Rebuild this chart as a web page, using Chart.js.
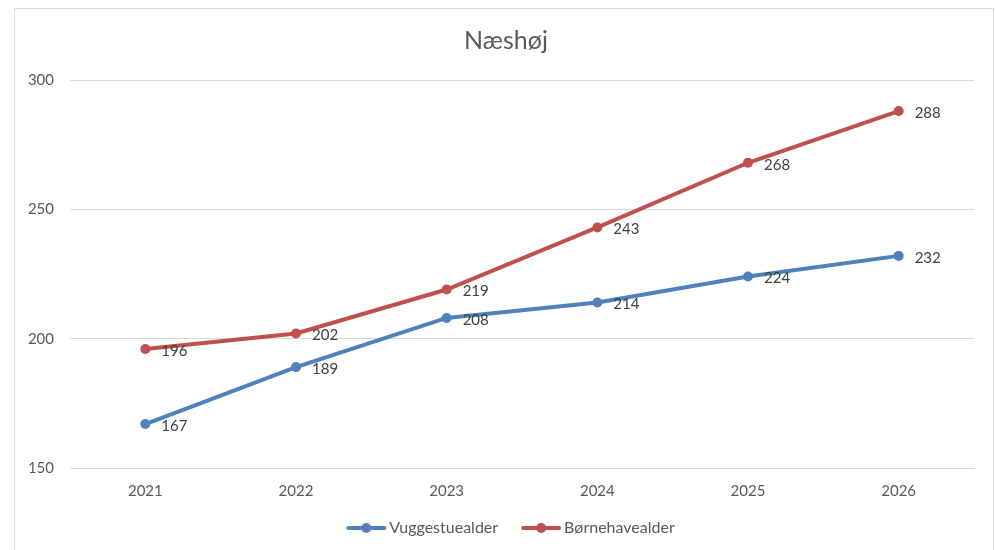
<!DOCTYPE html>
<html lang="da">
<head>
<meta charset="UTF-8">
<title>Næshøj</title>
<script src="https://cdn.jsdelivr.net/npm/chart.js"></script>
<style>
  html, body { margin: 0; padding: 0; background: #fff; overflow: hidden; }
  #frame { position: absolute; left: 14px; top: 8px; width: 980px; height: 560px; border: 1px solid #d9d9d9; box-sizing: border-box; }
  #frame canvas { position: absolute; left: 0; top: 0; }
</style>
</head>
<body>
<div id="frame"><canvas id="chart" width="982" height="558"></canvas></div>
<script>
// data
const years = ['2021', '2022', '2023', '2024', '2025', '2026'];
const vuggestue = [167, 189, 208, 214, 224, 232];
const boernehave = [196, 202, 219, 243, 268, 288];
const yTicks = [150, 200, 250, 300];

const blue = '#4f81bd';
const red = '#c0504d';
const textGrey = '#595959';
const fontFamily = 'Lato, "Open Sans", sans-serif';

// legend marker: line with a dot in the middle (left part left blank for item spacing)
function legendMarker(color) {
    const c = document.createElement('canvas');
    c.width = 56; c.height = 12;
    const g = c.getContext('2d');
    g.strokeStyle = color;
    g.lineWidth = 4;
    g.lineCap = 'round';
    g.beginPath(); g.moveTo(17, 6); g.lineTo(53, 6); g.stroke();
    g.fillStyle = color;
    g.beginPath(); g.arc(35, 6, 5, 0, Math.PI * 2); g.fill();
    return c;
}

// simple data labels right of each point
const valueLabels = {
    id: 'valueLabels',
    afterDatasetsDraw(chart) {
        const ctx = chart.ctx;
        ctx.save();
        ctx.font = '15px ' + fontFamily;
        ctx.fillStyle = '#404040';
        ctx.textAlign = 'left';
        ctx.textBaseline = 'middle';
        chart.data.datasets.forEach((ds, i) => {
            chart.getDatasetMeta(i).data.forEach((pt, j) => {
                ctx.fillText(ds.data[j], pt.x + 16, pt.y + 2);
            });
        });
        ctx.restore();
    }
};

new Chart(document.getElementById('chart'), {
    type: 'line',
    data: {
        labels: years,
        datasets: [
            {
                label: 'Vuggestuealder',
                data: vuggestue,
                borderColor: blue,
                backgroundColor: blue,
                borderWidth: 4,
                pointRadius: 5,
                pointHoverRadius: 5,
                pointBorderWidth: 0,
                tension: 0
            },
            {
                label: 'Børnehavealder',
                data: boernehave,
                borderColor: red,
                backgroundColor: red,
                borderWidth: 4,
                pointRadius: 5,
                pointHoverRadius: 5,
                pointBorderWidth: 0,
                tension: 0
            }
        ]
    },
    options: {
        responsive: false,
        animation: false,
        layout: { padding: { left: 0, right: 0, top: 0, bottom: 21 } },
        scales: {
            x: {
                offset: true,
                grid: { display: false },
                border: { display: true, color: '#d9d9d9', width: 1 },
                ticks: { color: textGrey, font: { family: fontFamily, size: 15 }, padding: 6 }
            },
            y: {
                min: 150,
                max: 300,
                afterBuildTicks(scale) { scale.ticks = yTicks.map(v => ({ value: v })); },
                afterFit(scale) { scale.width = 55; },
                grid: { color: '#d9d9d9', drawTicks: false },
                border: { display: false },
                ticks: { color: textGrey, font: { family: fontFamily, size: 15 }, padding: 16 }
            },
            // empty right margin so title and legend stay centred like the original
            yRight: {
                position: 'right',
                min: 150,
                max: 300,
                afterFit(scale) { scale.width = 23; },
                grid: { display: false },
                border: { display: false },
                ticks: { display: false }
            }
        },
        plugins: {
            title: {
                display: true,
                text: 'Næshøj',
                color: textGrey,
                font: { family: fontFamily, size: 25, weight: 'normal' },
                padding: { top: 17, bottom: 24 }
            },
            legend: {
                position: 'bottom',
                labels: {
                    color: textGrey,
                    font: { family: fontFamily, size: 16 },
                    usePointStyle: true,
                    pointStyleWidth: 44,
                    padding: 14,
                    generateLabels(chart) {
                        const items = Chart.defaults.plugins.legend.labels.generateLabels(chart);
                        items.forEach((it, i) => { it.pointStyle = legendMarker(i === 0 ? blue : red); });
                        return items;
                    }
                }
            },
            tooltip: { enabled: false }
        }
    },
    plugins: [valueLabels]
});
</script>
</body>
</html>
